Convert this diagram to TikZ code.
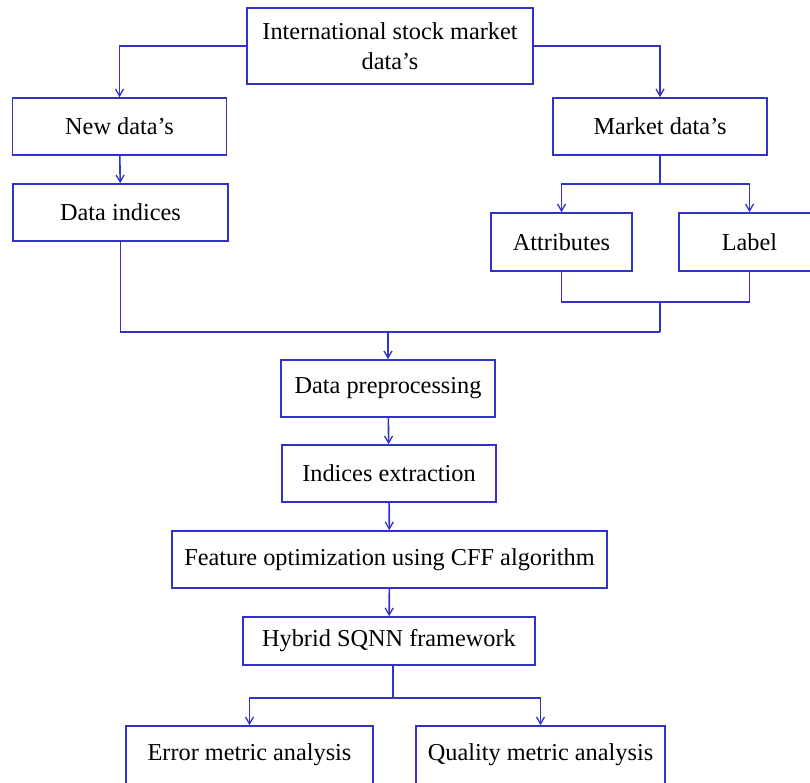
\documentclass[tikz,border=0pt]{standalone}
\usepackage{fontspec}
\setmainfont{Liberation Serif}
\usetikzlibrary{arrows.meta,calc}
\definecolor{lineblue}{RGB}{50,50,200}
\tikzset{
  box/.style={draw=lineblue, line width=1.6pt, fill=white, inner sep=0pt, align=center,
    font=\fontsize{24.3}{30}\selectfont},
  conn/.style={draw=lineblue, line width=1.6pt},
  arr/.style={conn, -{Straight Barb[length=7pt,width=8pt,line width=1.3pt]}}
}
\begin{document}
\begin{tikzpicture}[x=1pt,y=-1pt]
\useasboundingbox (0,0) rectangle (810,782);
\clip (0,0) rectangle (810,782);
\fill[white] (0,0) rectangle (810,782);
\node[box, minimum width=286pt, minimum height=76pt] (top) at (390,46) {International stock market\\data’s};
\node[box, minimum width=214pt, minimum height=57pt] (new) at (119.5,126.5) {New data’s};
\node[box, minimum width=213.5pt, minimum height=57pt] (market) at (660,126.5) {Market data’s};
\node[box, minimum width=214.5pt, minimum height=57pt] (indices) at (120.5,212.5) {Data indices};
\node[box, minimum width=141pt, minimum height=58pt] (attr) at (561.5,242) {Attributes};
\node[box, minimum width=141.3pt, minimum height=58pt] (label) at (749.5,242) {Label};
\node[box, minimum width=213.5pt, minimum height=57pt] (prep) at (388,388.5) {Data preprocessing};
\node[box, minimum width=213.5pt, minimum height=57pt] (extr) at (389,473.5) {Indices extraction};
\node[box, minimum width=435pt, minimum height=57pt] (feat) at (389.5,559.5) {Feature optimization using CFF algorithm};
\node[box, minimum width=292pt, minimum height=48pt] (hyb) at (389,641) {Hybrid SQNN framework};
\node[box, minimum width=247.5pt, minimum height=58pt] (err) at (249.5,755) {Error metric analysis};
\node[box, minimum width=249pt, minimum height=58pt] (qual) at (540.5,755) {Quality metric analysis};

\draw[arr] (top.west) -| (new.north);
\draw[arr] (top.east) -| (market.north);
\draw[arr] (new) -- (indices);
\coordinate (msplit) at ($(market.south)+(0,28)$);
\draw[conn] (market.south) -- (msplit);
\draw[arr] (msplit) -| (attr.north);
\draw[arr] (msplit) -| (label.north);
\coordinate (ajoin) at (market.south |- 0,302);
\coordinate (bus) at (market.south |- 0,332);
\draw[conn] (attr.south) |- (ajoin) -| (label.south);
\draw[conn] (ajoin) -- (bus);
\draw[conn] (indices.south) |- (bus);
\draw[arr] (prep.north |- bus) -- (prep.north);
\draw[arr] (prep) -- (extr);
\draw[arr] (extr) -- (feat);
\draw[arr] (feat) -- (hyb);
\coordinate (hsplit) at ($(hyb.south)+(4,32)$);
\draw[conn] ($(hyb.south)+(4,0)$) -- (hsplit);
\draw[arr] (hsplit) -| (err.north);
\draw[arr] (hsplit) -| (qual.north);
\end{tikzpicture}
\end{document}
